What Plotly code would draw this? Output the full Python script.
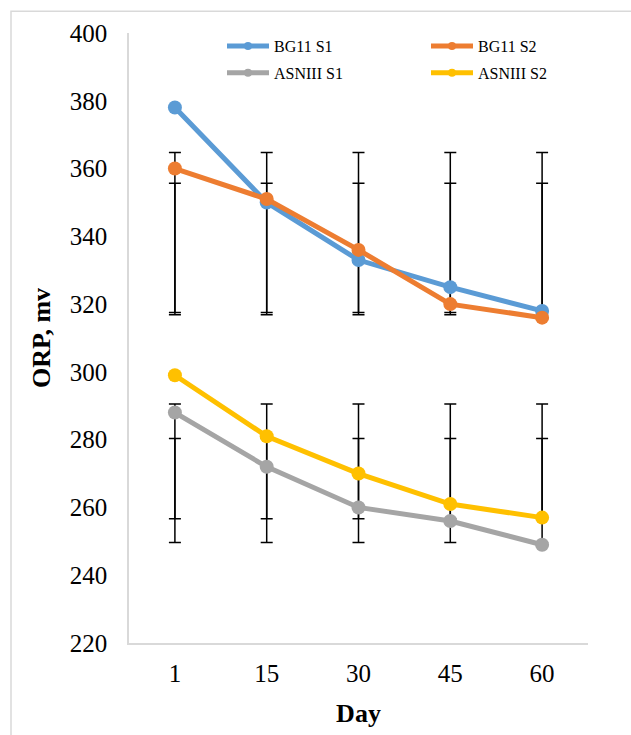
import numpy as np
import plotly.graph_objects as go

days = ["1", "15", "30", "45", "60"]
bg11_s1 = [378, 350, 333, 325, 318]
bg11_s2 = [360, 351, 336, 320, 316]
asn_s1 = [288, 272, 260, 256, 249]
asn_s2 = [299, 281, 270, 261, 257]

series = [
    ("BG11 S1", bg11_s1, "#5B9BD5"),
    ("BG11 S2", bg11_s2, "#ED7D31"),
    ("ASNIII S1", asn_s1, "#A5A5A5"),
    ("ASNIII S2", asn_s2, "#FFC000"),
]

FONT = "Liberation Serif, Times New Roman, serif"
W, H = 631, 735
# plot area: left 129, right 588, top 33, bottom 647 (page pixels)
ML, MT = 129, 33
MR, MB = W - 588, H - 647
PW, PH = W - ML - MR, H - MT - MB


def px_x(p):
    return (p - ML) / PW


def px_y(p):
    return (H - MB - p) / PH


fig = go.Figure()

# Error bars (Excel "standard deviation" type: centred on series mean, +/- sample SD)
for name, vals, col in series:
    arr = np.array(vals, dtype=float)
    m = arr.mean()
    sd = arr.std(ddof=1)
    fig.add_trace(go.Scatter(
        x=days, y=[m] * len(days), mode="markers",
        marker=dict(size=1, opacity=0),
        error_y=dict(type="constant", value=sd, symmetric=True,
                     color="black", thickness=1.5, width=6),
        showlegend=False, hoverinfo="skip",
    ))

for name, vals, col in series:
    fig.add_trace(go.Scatter(
        x=days, y=vals, mode="lines+markers", name=name,
        line=dict(color=col, width=5),
        marker=dict(color=col, size=14),
        showlegend=False,
    ))

legend_pos = {
    "BG11 S1": ("legend", 222, 29),
    "BG11 S2": ("legend2", 426, 29),
    "ASNIII S1": ("legend3", 222, 56),
    "ASNIII S2": ("legend4", 426, 56),
}

for name, vals, col in series:
    fig.add_trace(go.Scatter(
        x=[None], y=[None], mode="lines+markers", name=name,
        line=dict(color=col, width=5),
        marker=dict(color=col, size=8),
        showlegend=True, legend=legend_pos[name][0],
    ))

fig.add_shape(type="rect", xref="paper", yref="paper",
              x0=px_x(11), x1=px_x(700), y0=px_y(800), y1=px_y(11),
              line=dict(color="#D9D9D9", width=1.5), fillcolor="rgba(0,0,0,0)",
              layer="below")

legends = {}
for name, (key, lx, ly) in legend_pos.items():
    legends[key] = dict(
        orientation="v", x=px_x(lx), y=px_y(ly), xanchor="left", yanchor="top",
        itemwidth=42,
        font=dict(family=FONT, size=16, color="black"),
        bgcolor="rgba(0,0,0,0)",
    )

fig.update_layout(
    width=W, height=H,
    margin=dict(l=ML, r=MR, t=MT, b=MB, pad=0),
    paper_bgcolor="white", plot_bgcolor="white",
    font=dict(family=FONT, color="black"),
    showlegend=True,
    **legends,
    xaxis=dict(
        type="category", range=[-0.5, 4.5],
        showline=True, linecolor="#D9D9D9", linewidth=1.5,
        showgrid=False, zeroline=False, ticks="",
        tickfont=dict(family=FONT, size=25, color="black"),
        ticklabelstandoff=7,
        title=dict(text="<b>Day</b>", font=dict(family=FONT, size=26, color="black"), standoff=18),
    ),
    yaxis=dict(
        range=[220, 400], dtick=20, tick0=220,
        showline=True, linecolor="#D9D9D9", linewidth=1.5,
        showgrid=False, zeroline=False, ticks="",
        tickfont=dict(family=FONT, size=25, color="black"),
        ticklabelstandoff=15,
        title=dict(text="<b>ORP, mv</b>", font=dict(family=FONT, size=26, color="black"), standoff=12),
    ),
)

fig.write_html(
    "out.html",
    config={"displayModeBar": False},
    post_script="document.body.style.margin='0px';document.body.style.overflow='hidden';",
)
